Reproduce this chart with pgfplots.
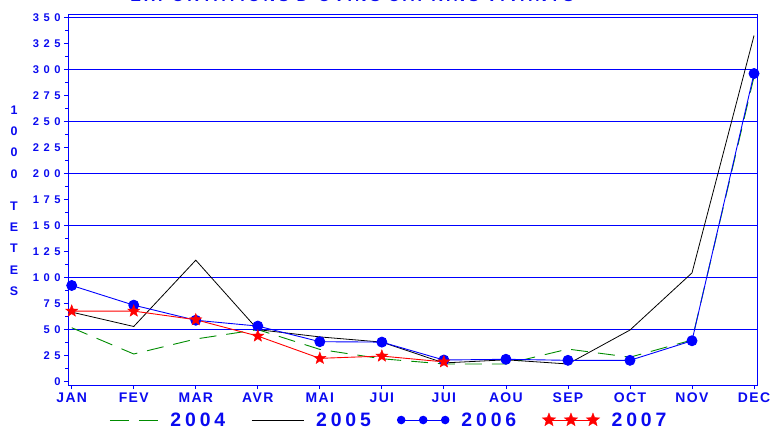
\documentclass[border=0pt]{standalone}
\usepackage{fontspec}
\setmainfont{Liberation Sans}
\newfontfamily\tickfont[LetterSpace=40]{Liberation Sans}
\newfontfamily\xfont[LetterSpace=10]{Liberation Sans}
\newfontfamily\legfont[LetterSpace=20]{Liberation Sans}
\newfontfamily\titfont[LetterSpace=20]{Liberation Sans}
\usepackage{pgfplots}
\pgfplotsset{compat=1.18}
\definecolor{txtblue}{RGB}{10,10,240}
\definecolor{grn}{RGB}{0,140,0}
\pgfdeclareplotmark{fstar}{%
  \pgfpathmoveto{\pgfpointpolar{90}{\pgfplotmarksize}}%
  \pgfpathlineto{\pgfpointpolar{126}{0.42\pgfplotmarksize}}%
  \pgfpathlineto{\pgfpointpolar{162}{\pgfplotmarksize}}%
  \pgfpathlineto{\pgfpointpolar{198}{0.42\pgfplotmarksize}}%
  \pgfpathlineto{\pgfpointpolar{234}{\pgfplotmarksize}}%
  \pgfpathlineto{\pgfpointpolar{270}{0.42\pgfplotmarksize}}%
  \pgfpathlineto{\pgfpointpolar{306}{\pgfplotmarksize}}%
  \pgfpathlineto{\pgfpointpolar{342}{0.42\pgfplotmarksize}}%
  \pgfpathlineto{\pgfpointpolar{18}{\pgfplotmarksize}}%
  \pgfpathlineto{\pgfpointpolar{54}{0.42\pgfplotmarksize}}%
  \pgfpathclose\pgfusepathqfillstroke}
\begin{document}
\begin{tikzpicture}
\begin{axis}[
  name=ax, at={(0,0)}, anchor=south west,
  scale only axis, width=689.5bp, height=370.5bp,
  xmin=-0.06, xmax=11.056, ymin=-3.2, ymax=352.7,
  clip=false,
  axis line style={blue, line width=0.9pt},
  xtick={0,...,11},
  xticklabels={JAN,FEV,MAR,AVR,MAI,JUI,JUI,AOU,SEP,OCT,NOV,DEC},
  ytick={0,25,...,350},
  minor y tick num=1,
  tick align=outside, xtick pos=left, ytick pos=left,
  major tick length=4bp, minor tick length=2.5bp,
  tick style={draw=blue, line width=0.8pt},
  /pgf/number format/assume math mode=true,
  yticklabel style={font=\tickfont\bfseries\fontsize{11.2}{12}\selectfont, text=txtblue},
  xticklabel style={font=\xfont\bfseries\fontsize{14}{15}\selectfont, text=txtblue},
  title={EXPORTATIONS D'OVINS CAPRINS VIVANTS},
  title style={at={(axis description cs:0.412,1.0202)}, anchor=base, inner sep=0pt,
    font=\titfont\bfseries\fontsize{16}{18}\selectfont, text=txtblue},
  ylabel={1\\0\\0\\0\\[10.7bp]T\\E\\T\\E\\S},
  every axis y label/.style={at={(axis description cs:-0.0783,0.498)}, anchor=center,
    align=center, font=\bfseries\fontsize{12.5}{21.4}\selectfont, text=txtblue},
  legend columns=4,
  legend style={at={(axis description cs:0.0599,-0.0945)}, anchor=west, draw=none, fill=none,
    font=\legfont\bfseries\fontsize{19.5}{20}\selectfont, text=txtblue, inner sep=0pt,
    nodes={inner sep=0pt},
    /tikz/every odd column/.append style={column sep=12bp},
    /tikz/every even column/.append style={column sep=26bp}},
]
\addplot[color=blue, line width=1.2pt, forget plot] coordinates {(-0.06,50) (11.056,50)};
\addplot[color=blue, line width=1.2pt, forget plot] coordinates {(-0.06,100) (11.056,100)};
\addplot[color=blue, line width=1.2pt, forget plot] coordinates {(-0.06,150) (11.056,150)};
\addplot[color=blue, line width=1.2pt, forget plot] coordinates {(-0.06,200) (11.056,200)};
\addplot[color=blue, line width=1.2pt, forget plot] coordinates {(-0.06,250) (11.056,250)};
\addplot[color=blue, line width=1.2pt, forget plot] coordinates {(-0.06,300) (11.056,300)};
\addplot[color=blue, line width=1.2pt, forget plot] coordinates {(-0.06,350) (11.056,350)};
\addplot[grn, line width=0.9pt, dash pattern=on 17bp off 10bp,
  legend image code/.code={\draw[grn, line width=0.9pt, dash pattern=on 19bp off 10bp] (0bp,0bp) -- (48bp,0bp);}]
  coordinates {(0,51.8) (1,26.6) (2,41) (3,50) (4,31) (5,22) (6,17) (7,17) (8,31.3) (9,23.5) (10,40) (11,293)};
\addlegendentry{2004}
\addplot[black, line width=0.8pt,
  legend image code/.code={\draw[black, line width=0.8pt] (0bp,0bp) -- (52bp,0bp);}]
  coordinates {(0,66.8) (1,53) (2,116.7) (3,50) (4,43) (5,38) (6,18) (7,21) (8,17) (9,49.6) (10,104.5) (11,332.5)};
\addlegendentry{2005}
\addplot[blue, line width=0.9pt, mark=*, mark size=5bp, mark options={fill=blue, draw=blue},
  legend image code/.code={\draw[blue, line width=0.9pt] (0bp,0bp) -- (48bp,0bp);
    \fill[blue] (3bp,0bp) circle (3.8bp) (25bp,0bp) circle (3.8bp) (47bp,0bp) circle (3.8bp);}]
  coordinates {(0,92.4) (1,73.5) (2,59) (3,53.4) (4,38.4) (5,38) (6,20.8) (7,21.5) (8,20.5) (9,20.5) (10,39.3) (11,296)};
\addlegendentry{2006}
\addplot[red, line width=0.9pt, mark=fstar, mark size=6.3bp, mark options={fill=red, draw=red, line width=0.4pt},
  legend image code/.code={\draw[red, line width=0.9pt] (0bp,0bp) -- (50bp,0bp);
    \draw[red, fill=red, line width=0.4pt] plot[only marks, mark=fstar, mark size=7bp] coordinates {(4bp,0bp) (26bp,0bp) (48bp,0bp)};}]
  coordinates {(0,67.8) (1,67.8) (2,59.5) (3,43.8) (4,22.4) (5,24.6) (6,19)};
\addlegendentry{2007}
\end{axis}
\pgfresetboundingbox
\useasboundingbox (-68bp,-45bp) rectangle (704bp,385bp);
\end{tikzpicture}
\end{document}
